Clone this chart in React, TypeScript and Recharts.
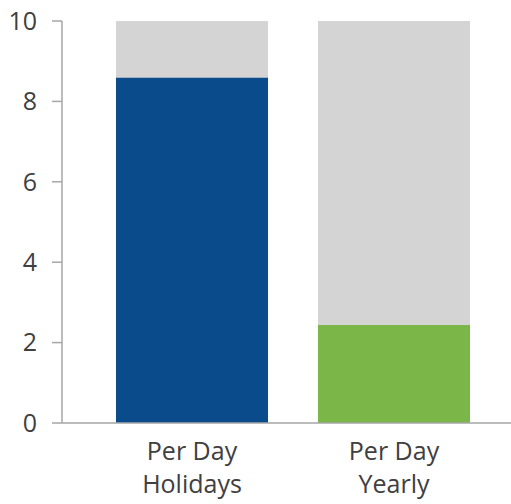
import React from 'react';
import { BarChart, Bar, XAxis, YAxis, Cell, useOffset } from 'recharts';

const categories = ['Per Day Holidays', 'Per Day Yearly'];
const values = [8.59, 2.44];
const colors = ['#0a4b8b', '#7ab648'];
const yTicks = [0, 2, 4, 6, 8, 10];

const data = categories.map((c, i) => ({ name: c, value: values[i] }));

const FONT = '"Open Sans", sans-serif';
const TEXT = '#404040';
const AXIS = '#a6a6a6';

const XTick = (props: any) => {
  const { x, y, payload } = props;
  const words = String(payload.value).split(' ');
  const lines = [words.slice(0, 2).join(' '), words.slice(2).join(' ')];
  return (
    <g transform={`translate(${x},${y})`}>
      {lines.map((l, i) => (
        <text key={i} x={0} y={29 + i * 33} textAnchor="middle" fill={TEXT} fontSize={25} fontFamily={FONT}>
          {l}
        </text>
      ))}
    </g>
  );
};

const AxisExtension = () => {
  const off: any = useOffset();
  if (!off) return null;
  const x = off.left;
  const y = off.top + off.height;
  return <line x1={x} x2={x} y1={y} y2={y + 10} stroke={AXIS} strokeWidth={1.5} />;
};

export default function App() {
  return (
    <div style={{ position: 'absolute', left: 0, top: 0, background: '#fff' }}>
      <BarChart width={511} height={504} data={data} margin={{ top: 21, right: 0, bottom: 11, left: 0 }}>
        <XAxis
          dataKey="name"
          padding={{ left: 29, right: 16 }}
          axisLine={{ stroke: AXIS, strokeWidth: 1.5 }}
          tickLine={false}
          tick={<XTick />}
          height={70}
          interval={0}
        />
        <YAxis
          domain={[0, 10]}
          ticks={yTicks}
          width={62}
          tickSize={10}
          tickMargin={15}
          axisLine={{ stroke: AXIS, strokeWidth: 1.5 }}
          tickLine={{ stroke: AXIS, strokeWidth: 1.5 }}
          tick={{ fill: TEXT, fontSize: 25, fontFamily: FONT }}
          interval={0}
        />
        <Bar dataKey="value" barSize={152} background={{ fill: '#d4d4d4' }} isAnimationActive={false}>
          {data.map((d, i) => (
            <Cell key={d.name} fill={colors[i]} />
          ))}
        </Bar>
        <AxisExtension />
      </BarChart>
    </div>
  );
}
